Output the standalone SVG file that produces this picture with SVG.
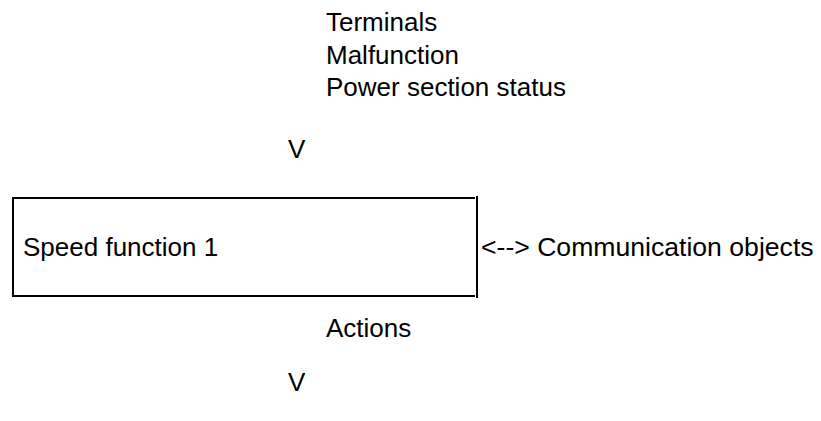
<svg xmlns="http://www.w3.org/2000/svg" width="821" height="421" viewBox="0 0 821 421">
<style>
text{font-family:"Liberation Sans",Arial,sans-serif;font-size:26px;fill:#000}
.ln{stroke:#000;stroke-width:2;fill:none}
</style>
<rect width="821" height="421" fill="#fff"/>
<g id="inputs">
<text x="326" y="31">Terminals</text>
<text x="326" y="63.5">Malfunction</text>
<text x="326" y="96">Power section status</text>
</g>
<g id="connectors">
<text x="288" y="158">V</text>
<text x="481" y="256" style="font-size:26.6px">&lt;--&gt; Communication objects</text>
<text x="288" y="391">V</text>
</g>
<g id="speed-function">
<path class="ln" d="M475,198 H13 V296 H475"/>
<path class="ln" d="M477,196 V298"/>
<text x="23" y="256">Speed function 1</text>
</g>
<g id="actions">
<text x="326" y="337">Actions</text>
</g>
</svg>
